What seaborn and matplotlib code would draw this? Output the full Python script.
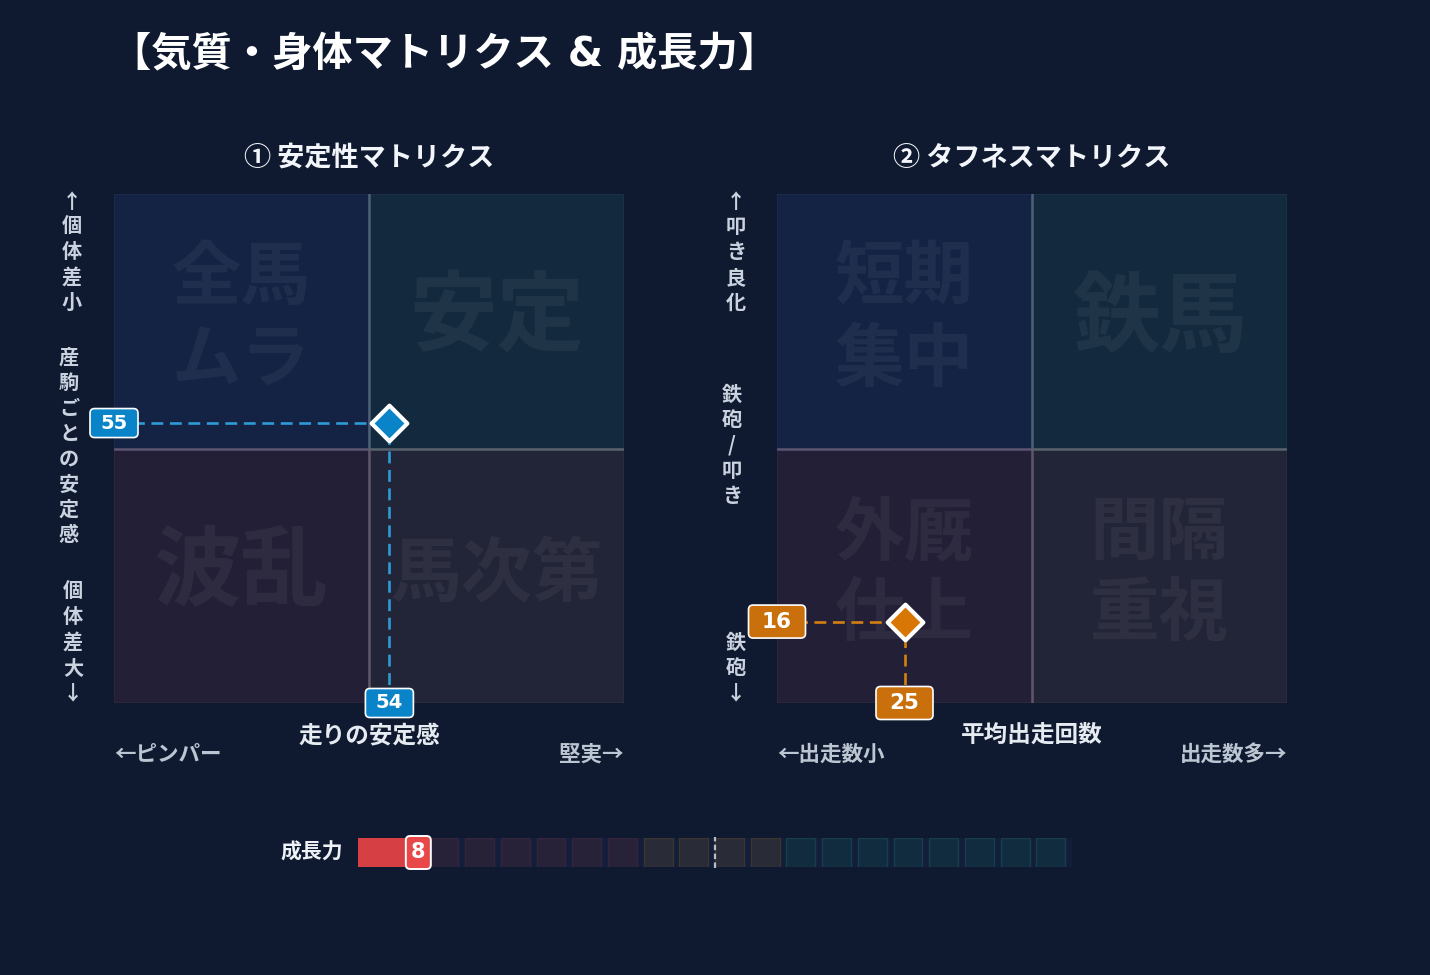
import matplotlib
matplotlib.use("Agg")
import matplotlib.pyplot as plt
import seaborn as sns
import pandas as pd
from matplotlib.patches import Rectangle, FancyBboxPatch

# ---------------- data ----------------
title = "【気質・身体マトリクス & 成長力】"
matrix_titles = ["① 安定性マトリクス", "② タフネスマトリクス"]
stability_quadrants = ["全馬\nムラ", "安定", "波乱", "馬次第"]      # TL, TR, BL, BR
toughness_quadrants = ["短期\n集中", "鉄馬", "外厩\n仕上", "間隔\n重視"]
stability_x = [54]
stability_y = [55]
toughness_x = [25]
toughness_y = [16]
stability_y_labels = ["↑個体差小", "産駒ごとの安定感", "個体差大↓"]
toughness_y_labels = ["↑叩き良化", "鉄砲/叩き", "鉄砲↓"]
stability_x_labels = ["←ピンパー", "走りの安定感", "堅実→"]
toughness_x_labels = ["←出走数小", "平均出走回数", "出走数多→"]
growth_label = "成長力"
growth_value = 8
growth_cells = 20
growth_zones = [40, 60]   # boundaries of purple / gray / teal zones

# ---------------- style ----------------
BG = "#0f1a30"
W, H = 1430, 975
sns.set_theme(style="dark", rc={"figure.facecolor": BG, "axes.facecolor": BG})
CJK = ["Noto Sans CJK JP", "DejaVu Sans"]
LATIN = ["DejaVu Sans", "Noto Sans CJK JP"]
plt.rcParams["font.family"] = CJK
plt.rcParams["font.weight"] = "bold"

fig = plt.figure(figsize=(W / 100, H / 100), dpi=100)
fig.patch.set_facecolor(BG)


def fp(x, y):
    return x / W, 1 - y / H


def add_ax(x0, y0, x1, y1):
    l, t = fp(x0, y0)
    r, b = fp(x1, y1)
    ax = fig.add_axes([l, b, r - l, t - b])
    ax.set_facecolor(BG)
    ax.set_axis_off()
    return ax


QCOL = ["#142244", "#13293d", "#221f37", "#222537"]
QEDGE = ["#1c2c50", "#1a3445", "#30263f", "#2c2e3e"]
QPOS = [(0, 50), (50, 50), (0, 0), (50, 0)]


def qsize(lab):
    if "\n" in lab:
        return 50
    return 63 if len(lab) == 2 else 51


def draw_matrix(ax, quads, px, py, col_fill, col_line, col_badge, bw, bh, bfs):
    ax.set_xlim(0, 100)
    ax.set_ylim(0, 100)
    for (x0, y0), fc, ec, lab in zip(QPOS, QCOL, QEDGE, quads):
        ax.add_patch(Rectangle((x0, y0), 50, 50, facecolor=fc, edgecolor=ec,
                               lw=1.2, zorder=1))
        ax.text(x0 + 25, y0 + 25.3, lab, ha="center", va="center",
                fontsize=qsize(lab), color="white", alpha=0.055,
                fontweight="bold", linespacing=1.2, zorder=2)
    ax.plot([50, 50], [50, 100], color="#4d6079", lw=1.8, zorder=3)
    ax.plot([50, 50], [0, 50], color="#5f5668", lw=1.8, zorder=3)
    ax.plot([0, 50], [50, 50], color="#5b5373", lw=1.8, zorder=3)
    ax.plot([50, 100], [50, 50], color="#56626c", lw=1.8, zorder=3)

    x, y = px[0], py[0]
    ax.plot([0, x], [y, y], color=col_line, lw=1.9, ls=(0, (4.5, 2.5)), zorder=4)
    ax.plot([x, x], [0, y], color=col_line, lw=1.9, ls=(0, (4.5, 2.5)), zorder=4)
    df = pd.DataFrame({"x": px, "y": py})
    sns.scatterplot(data=df, x="x", y="y", marker="D", s=330, color=col_fill,
                    edgecolor="white", linewidth=3, zorder=6, ax=ax,
                    legend=False, clip_on=False)
    ax.set_axis_off()
    uw, uh = bw / 5.1, bh / 5.09
    for cx, cy, t in [(0, y, str(y)), (x, 0, str(x))]:
        ax.add_patch(FancyBboxPatch((cx - uw / 2, cy - uh / 2), uw, uh,
                                    boxstyle="round,pad=0,rounding_size=0.9",
                                    facecolor=col_badge, edgecolor="white",
                                    lw=1.2, zorder=7, clip_on=False))
        ax.text(cx, cy, t, ha="center", va="center", color="white",
                fontsize=bfs, fontweight="bold", family=LATIN, zorder=8,
                clip_on=False)


axL = add_ax(114, 194, 624, 703)
draw_matrix(axL, stability_quadrants, stability_x, stability_y,
            "#0a84c8", "#2e9ad6", "#0a84c8", 48, 29, 14)
axR = add_ax(777, 194, 1287, 703)
draw_matrix(axR, toughness_quadrants, toughness_x, toughness_y,
            "#d97706", "#d4800e", "#c96f0b", 57, 33, 15.5)

# ---------------- texts ----------------
fig.text(*fp(111, 54), title, ha="left", va="center", fontsize=29,
         color="white", fontweight="bold", family=LATIN)
fig.text(*fp(369, 158), matrix_titles[0], ha="center", va="center",
         fontsize=19.5, color="#f2f5f9", fontweight="bold")
fig.text(*fp(1032, 158), matrix_titles[1], ha="center", va="center",
         fontsize=19.5, color="#f2f5f9", fontweight="bold")

YCOL = "#c9d2de"


def vlabels(labels, xs, top, mid, bot):
    kw = dict(ha="center", fontsize=14.5, color=YCOL, fontweight="bold",
              linespacing=1.25)
    fig.text(*fp(xs[0], top), "\n".join(labels[0]), va="top", **kw)
    fig.text(*fp(xs[1], mid), "\n".join(labels[1]), va="center", **kw)
    fig.text(*fp(xs[2], bot), "\n".join(labels[2]), va="bottom", **kw)


vlabels(stability_y_labels, [72, 69, 73], 191, 446, 703)
vlabels(toughness_y_labels, [736, 732, 736], 191, 445, 703)


def xlabels(labels, x0, x1):
    fig.text(*fp(x0, 754), labels[0], ha="left", va="center", fontsize=15.5,
             color="#bcc6d2", fontweight="bold")
    fig.text(*fp((x0 + x1) / 2, 735), labels[1], ha="center", va="center",
             fontsize=17, color="#e6ebf1", fontweight="bold")
    fig.text(*fp(x1, 754), labels[2], ha="right", va="center", fontsize=15.5,
             color="#bcc6d2", fontweight="bold")


xlabels(stability_x_labels, 114, 624)
xlabels(toughness_x_labels, 777, 1287)

# ---------------- growth bar ----------------
axG = add_ax(358, 838, 1072, 867)
axG.set_xlim(0, 100)
axG.set_ylim(0, 1)
step = 100 / growth_cells
axG.add_patch(Rectangle((0, 0), 100, 1, facecolor="#131e3a", lw=0, zorder=0))
for i in range(growth_cells):
    start = i * step
    if start < growth_zones[0]:
        fc, ec = "#272238", "#35243e"
    elif start < growth_zones[1]:
        fc, ec = "#292c36", "#3b3630"
    else:
        fc, ec = "#122c3f", "#173e4a"
    axG.barh(0.5, step * 0.81, left=start, height=1, color=fc, edgecolor=ec,
             lw=1.0, align="center", zorder=1)
axG.barh(0.5, growth_value, left=0, height=1, color="#d64045", lw=0,
         zorder=2)
axG.plot([50, 50], [-0.05, 1.05], color="#b8bcc6", lw=1.6,
         ls=(0, (2.5, 1.5)), zorder=3, clip_on=False)
bw, bh = 25 / 7.14, 33 / 29
bx = growth_value + 0.45
axG.add_patch(FancyBboxPatch((bx - bw / 2, 0.5 - bh / 2), bw, bh,
                             boxstyle="round,pad=0,rounding_size=0.6",
                             mutation_aspect=0.25,
                             facecolor="#e84848", edgecolor="white", lw=1.4,
                             zorder=5, clip_on=False))
axG.text(bx, 0.5, str(growth_value), ha="center", va="center",
         color="white", fontsize=15, fontweight="bold", family=LATIN,
         zorder=6)
axG.set_axis_off()
fig.text(*fp(343, 852), growth_label, ha="right", va="center", fontsize=15,
         color="#eef2f6", fontweight="bold")

fig.savefig("out.png", dpi=100, facecolor=BG)
